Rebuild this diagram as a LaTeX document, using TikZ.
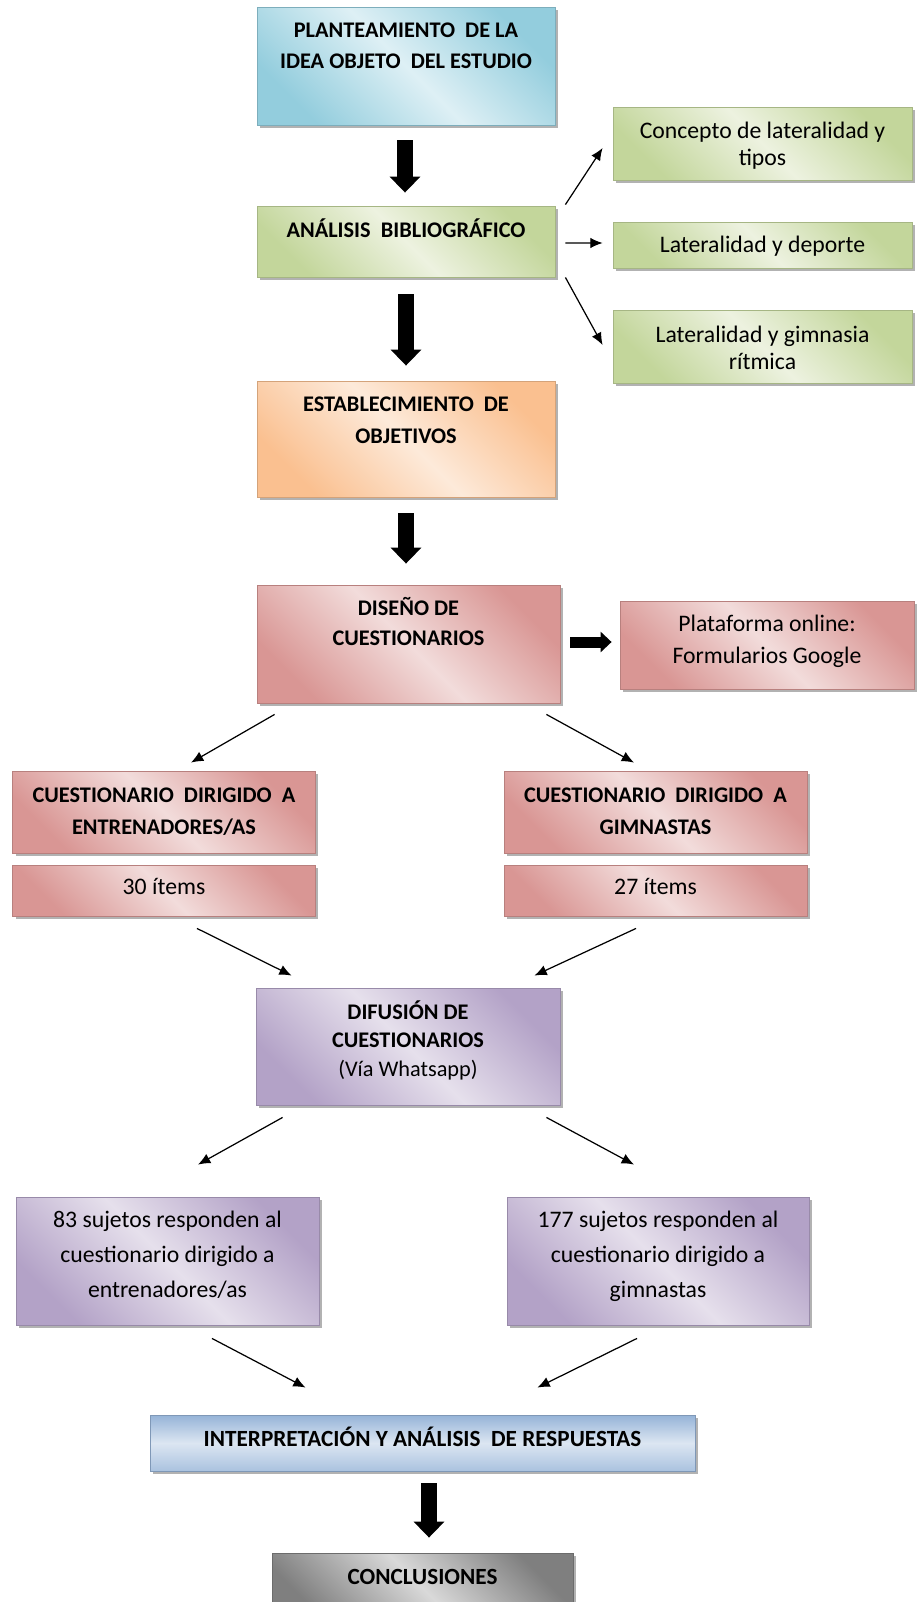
\documentclass[tikz,border=0pt]{standalone}
\usepackage{fontspec}
\setmainfont{Carlito}
\usetikzlibrary{arrows.meta, shadows}
\definecolor{cianO}{HTML}{93CDDD}
\definecolor{cianC}{HTML}{DEF0F5}
\definecolor{verdeO}{HTML}{C3D69B}
\definecolor{verdeC}{HTML}{EDF2E0}
\definecolor{narO}{HTML}{FAC090}
\definecolor{narC}{HTML}{FDEADA}
\definecolor{rosaO}{HTML}{D99694}
\definecolor{rosaC}{HTML}{F2DCDB}
\definecolor{lilaO}{HTML}{B3A2C7}
\definecolor{lilaC}{HTML}{E6E0EC}
\definecolor{azulO}{HTML}{95B3D7}
\definecolor{azulC}{HTML}{DCE6F2}
\definecolor{grisO}{HTML}{7F7F7F}
\definecolor{grisC}{HTML}{D9D9D9}
\tikzset{>={Latex[length=7pt,width=6pt]}}

\begin{document}
\begin{tikzpicture}[x=0.02cm, y=-0.02cm,
	caja/.style={rectangle, align=center, inner sep=0pt, line width=0.5pt,
		drop shadow={shadow xshift=0.06cm, shadow yshift=-0.06cm, opacity=0.5, fill=black!60}},
	alto/.style 2 args={text height=#1, text depth=#2},
	degradado/.style 2 args={left color=#1, right color=#1, middle color=#2, shading angle=135, draw=#1!85!black},
	titulo/.style={font=\bfseries\fontsize{12.7}{#1}\selectfont},
	titulo/.default=17.5,
	grande/.style={font=\bfseries\fontsize{13.2}{17.5}\selectfont},
	texto/.style={font=\fontsize{13.5}{#1}\selectfont},
	texto/.default=17.5,
	flecha/.style={line width=0.31cm, -{Triangle[width=0.6cm,length=0.32cm]}},
	fina/.style={->, line width=0.7pt}]
	\useasboundingbox (0,0) rectangle (916,1602);
	% Main column
	\node[caja, degradado={cianO}{cianC}, titulo=17.4, minimum width=5.96cm, alto={1.23cm}{1.13cm}] (idea) at (406,66) {PLANTEAMIENTO\ \ DE LA\\IDEA OBJETO\ \ DEL ESTUDIO};
	\node[caja, degradado={verdeO}{verdeC}, titulo, minimum width=5.96cm, alto={0.62cm}{0.8cm}] (analisis) at (406,241.5) {ANÁLISIS\ \ BIBLIOGRÁFICO};
	\node[caja, degradado={narO}{narC}, titulo=18, minimum width=5.96cm, alto={1.25cm}{1.07cm}] (objetivos) at (406,439) {ESTABLECIMIENTO\ \ DE\\OBJETIVOS};
	\node[caja, degradado={rosaO}{rosaC}, titulo=16.8, minimum width=6.06cm, alto={1.21cm}{1.15cm}] (diseno) at (408.5,644) {DISEÑO DE\\CUESTIONARIOS};
	% Bibliography topics
	\node[caja, degradado={verdeO}{verdeC}, texto=15.6, minimum width=5.98cm, alto={1.17cm}{0.29cm}] (concepto) at (762.5,143.5) {Concepto de lateralidad y\\tipos};
	\node[caja, degradado={verdeO}{verdeC}, texto, minimum width=5.98cm, alto={0.62cm}{0.3cm}] (deporte) at (762.5,245) {Lateralidad y deporte};
	\node[caja, degradado={verdeO}{verdeC}, texto=15.6, minimum width=5.98cm, alto={1.19cm}{0.27cm}] (gimnasia) at (762.5,346.5) {Lateralidad y gimnasia\\rítmica};
	% Platform
	\node[caja, degradado={rosaO}{rosaC}, texto=18, minimum width=5.88cm, alto={1.25cm}{0.51cm}] (plataforma) at (767,645) {Plataforma online:\\Formularios Google};
	% Questionnaires
	\node[caja, degradado={rosaO}{rosaC}, titulo=18.5, minimum width=6.06cm, alto={1.27cm}{0.37cm}] (cuestE) at (164,812) {CUESTIONARIO\ \ DIRIGIDO\ \ A\\ENTRENADORES/AS};
	\node[caja, degradado={rosaO}{rosaC}, texto, minimum width=6.06cm, alto={0.58cm}{0.44cm}] (itemsE) at (164,890.5) {30 ítems};
	\node[caja, degradado={rosaO}{rosaC}, titulo=18.5, minimum width=6.06cm, alto={1.27cm}{0.37cm}] (cuestG) at (655.5,812) {CUESTIONARIO\ \ DIRIGIDO\ \ A\\GIMNASTAS};
	\node[caja, degradado={rosaO}{rosaC}, texto, minimum width=6.06cm, alto={0.58cm}{0.44cm}] (itemsG) at (655.5,890.5) {27 ítems};
	% Diffusion
	\node[caja, degradado={lilaO}{lilaC}, titulo=16.2, minimum width=6.08cm, alto={1.76cm}{0.58cm}] (difusion) at (408,1046.5) {DIFUSIÓN DE\\CUESTIONARIOS\\{\mdseries (Vía Whatsapp)}};
	\node[caja, degradado={lilaO}{lilaC}, texto=19.7, minimum width=6.06cm, alto={2cm}{0.56cm}] (respE) at (167.5,1261) {83 sujetos responden al\\cuestionario dirigido a\\entrenadores/as};
	\node[caja, degradado={lilaO}{lilaC}, texto=19.7, minimum width=6.04cm, alto={2cm}{0.56cm}] (respG) at (658,1261) {177 sujetos responden al\\cuestionario dirigido a\\gimnastas};
	% Results
	\node[caja, top color=azulO, bottom color=azulO!70!azulC, middle color=azulC, draw=azulO!85!black, grande, minimum width=10.9cm, alto={0.62cm}{0.5cm}] (interp) at (422.5,1443) {INTERPRETACIÓN Y ANÁLISIS\ \ DE RESPUESTAS};
	\node[caja, degradado={grisO}{grisC}, grande, minimum width=6.02cm, alto={0.62cm}{0.78cm}] (concl) at (422.5,1588) {CONCLUSIONES};
	% Block arrows
	\draw[flecha] ([shift={(-1,15)}]idea.south) -- ([shift={(-1,-13)}]analisis.north);
	\draw[flecha] ([shift={(0,17)}]analisis.south) -- ([shift={(0,-15)}]objetivos.north);
	\draw[flecha] ([shift={(0,16)}]objetivos.south) -- ([shift={(-2.5,-21)}]diseno.north);
	\draw[line width=0.22cm, -{Triangle[width=0.4cm,length=0.22cm]}] ([shift={(10,-2)}]diseno.east) -- ([shift={(-8,-3)}]plataforma.west);
	\draw[flecha] ([shift={(6.5,12)}]interp.south) -- ([shift={(6.5,-15)}]concl.north);
	% Thin arrows
	\draw[fina] ([shift={(10,-1)}]analisis.north east) -- ([shift={(-10,4.5)}]concepto.west);
	\draw[fina] ([shift={(10,1.5)}]analisis.east) -- ([shift={(-10,-2)}]deporte.west);
	\draw[fina] ([shift={(10,0)}]analisis.south east) -- ([shift={(-10,-1.5)}]gimnasia.west);
	\draw[fina] ([shift={(18,11)}]diseno.south west) -- ([shift={(27,-8)}]cuestE.north);
	\draw[fina] ([shift={(-14,11)}]diseno.south east) -- ([shift={(-21.5,-8)}]cuestG.north);
	\draw[fina] ([shift={(33,12)}]itemsE.south) -- ([shift={(36,-12)}]difusion.north west);
	\draw[fina] ([shift={(-19.5,12)}]itemsG.south) -- ([shift={(-26,-12)}]difusion.north east);
	\draw[fina] ([shift={(27,12)}]difusion.south west) -- ([shift={(30.5,-32)}]respE.north);
	\draw[fina] ([shift={(-14,12)}]difusion.south east) -- ([shift={(-24,-32)}]respG.north);
	\draw[fina] ([shift={(44.5,13)}]respE.south) -- ([shift={(156,-27)}]interp.north west);
	\draw[fina] ([shift={(-21,13)}]respG.south) -- ([shift={(-158,-27)}]interp.north east);
\end{tikzpicture}
\end{document}
